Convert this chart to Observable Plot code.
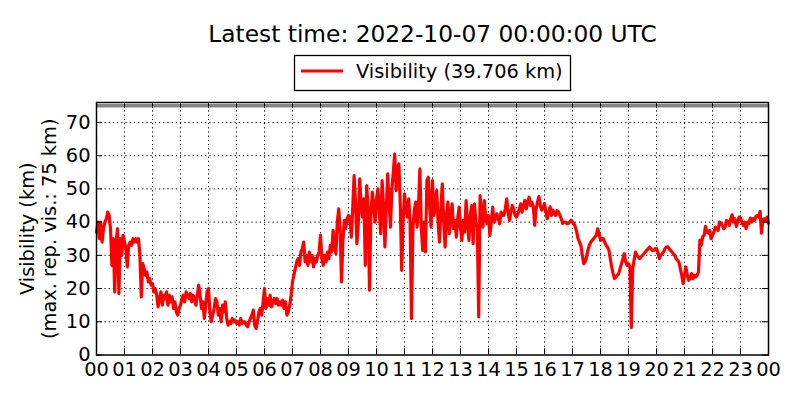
<!DOCTYPE html>
<html>
<head>
<meta charset="utf-8">
<script src="https://cdn.jsdelivr.net/npm/d3@7"></script>
<script src="https://cdn.jsdelivr.net/npm/@observablehq/plot@0.6"></script>
<style>
  html, body { margin: 0; padding: 0; background: white; }
  body { width: 800px; height: 400px; overflow: hidden; font-family: "DejaVu Sans", sans-serif; }
  #header { display: block; }
  #chart svg { display: block; }
</style>
</head>
<body>
<div id="header"></div>
<div id="chart"></div>
<script>
// ---- data (hours since 2022-10-06 00:00 UTC, visibility in km) ----
const titleText = "Latest time: 2022-10-07 00:00:00 UTC";
const seriesName = "Visibility";
const latestValue = 39.706;
const maxReportable = 75;
const yLabelLines = ["Visibility (km)", "(max. rep. vis.: 75 km)"];
const hourTicks = [0,1,2,3,4,5,6,7,8,9,10,11,12,13,14,15,16,17,18,19,20,21,22,23,24];
const kmTicks = [0,10,20,30,40,50,60,70];

const hours = [
  0,0.05,0.1,0.15,0.2,0.25,0.3,0.35,0.4,0.45,0.5,0.55,0.6,0.65,0.7,0.75,0.8,0.85,0.9,0.95,
  1,1.05,1.1,1.15,1.2,1.25,1.3,1.35,1.4,1.45,1.5,1.55,1.6,1.65,1.7,1.75,1.8,1.85,1.9,1.95,
  2,2.05,2.1,2.15,2.2,2.25,2.3,2.35,2.4,2.45,2.5,2.55,2.6,2.65,2.7,2.75,2.8,2.85,2.9,2.95,
  3,3.05,3.1,3.15,3.2,3.25,3.3,3.35,3.4,3.45,3.5,3.55,3.6,3.65,3.7,3.75,3.8,3.85,3.9,3.95,
  4,4.05,4.1,4.15,4.2,4.25,4.3,4.35,4.4,4.45,4.5,4.55,4.6,4.65,4.7,4.75,4.8,4.85,4.9,4.95,
  5,5.05,5.1,5.15,5.2,5.25,5.3,5.35,5.4,5.45,5.5,5.55,5.6,5.65,5.7,5.75,5.8,5.85,5.9,5.95,
  6,6.05,6.1,6.15,6.2,6.25,6.3,6.35,6.4,6.45,6.5,6.55,6.6,6.65,6.7,6.75,6.8,6.85,6.9,6.95,
  7,7.05,7.1,7.15,7.2,7.25,7.3,7.35,7.4,7.45,7.5,7.55,7.6,7.65,7.7,7.75,7.8,7.85,7.9,7.95,
  8,8.05,8.1,8.15,8.2,8.25,8.3,8.35,8.4,8.45,8.5,8.55,8.6,8.65,8.7,8.75,8.8,8.85,8.9,8.95,
  9,9.05,9.1,9.15,9.2,9.25,9.3,9.35,9.4,9.45,9.5,9.55,9.6,9.65,9.7,9.75,9.8,9.85,9.9,9.95,
  10,10.05,10.1,10.15,10.2,10.25,10.3,10.35,10.4,10.45,10.5,10.55,10.6,10.65,10.7,10.75,10.8,10.85,10.9,10.95,
  11,11.05,11.1,11.15,11.2,11.25,11.3,11.35,11.4,11.45,11.5,11.55,11.6,11.65,11.7,11.75,11.8,11.85,11.9,11.95,
  12,12.05,12.1,12.15,12.2,12.25,12.3,12.35,12.4,12.45,12.5,12.55,12.6,12.65,12.7,12.75,12.8,12.85,12.9,12.95,
  13,13.05,13.1,13.15,13.2,13.25,13.3,13.35,13.4,13.45,13.5,13.55,13.6,13.65,13.7,13.75,13.8,13.85,13.9,13.95,
  14,14.05,14.1,14.15,14.2,14.25,14.3,14.35,14.4,14.45,14.5,14.55,14.6,14.65,14.7,14.75,14.8,14.85,14.9,14.95,
  15,15.05,15.1,15.15,15.2,15.25,15.3,15.35,15.4,15.45,15.5,15.55,15.6,15.65,15.7,15.75,15.8,15.85,15.9,15.95,
  16,16.05,16.1,16.15,16.2,16.25,16.3,16.35,16.4,16.45,16.5,16.55,16.6,16.65,16.7,16.75,16.8,16.85,16.9,16.95,
  17,17.05,17.1,17.15,17.2,17.25,17.3,17.35,17.4,17.45,17.5,17.55,17.6,17.65,17.7,17.75,17.8,17.85,17.9,17.95,
  18,18.05,18.1,18.15,18.2,18.25,18.3,18.35,18.4,18.45,18.5,18.55,18.6,18.65,18.7,18.75,18.8,18.85,18.9,18.95,
  19,19.05,19.1,19.15,19.2,19.25,19.3,19.35,19.4,19.45,19.5,19.55,19.6,19.65,19.7,19.75,19.8,19.85,19.9,19.95,
  20,20.05,20.1,20.15,20.2,20.25,20.3,20.35,20.4,20.45,20.5,20.55,20.6,20.65,20.7,20.75,20.8,20.85,20.9,20.95,
  21,21.05,21.1,21.15,21.2,21.25,21.3,21.35,21.4,21.45,21.5,21.55,21.6,21.65,21.7,21.75,21.8,21.85,21.9,21.95,
  22,22.05,22.1,22.15,22.2,22.25,22.3,22.35,22.4,22.45,22.5,22.55,22.6,22.65,22.7,22.75,22.8,22.85,22.9,22.95,
  23,23.05,23.1,23.15,23.2,23.25,23.3,23.35,23.4,23.45,23.5,23.55,23.6,23.65,23.7,23.75,23.8,23.85,23.9,23.95,
  24
];

const visibility = [
  37,40,35,40,34,38,40,41,43,42,38,27,35,19,34,38,18.5,35,30,36,
  34,32,26.5,33,34,33,35,34,35,34,35,30,17.5,27.5,26,24,25,22,23,21,
  21.5,19,20,18,14.5,17,19,15,18,17,19,15,18,16,17.5,14,16,13,12,14,
  15,17,18,16,19,18,17,18.5,16,18,17,15,18,21,18,14,16,11,15,19,
  20,13,10,12,14,17,16,12,14,10,15,13,16,11,9,10,9.5,11,10,10.5,
  9.5,10,9,11,9.5,10,10,9,8.5,10,11,12,13.5,9,8,10,13,14,12,16,
  20,14,17,15,18,14.5,16,17,15.5,17,15,16,15,16.5,14,16,12,13,15,18,
  22,24,26,28,29,27,31,32,34,28,30,27,31,28,30,26.5,29,28,30,31,
  36,29,27,30,28,31,29,33,31,37.5,33,30.5,40,44,38,22,34,40.5,38,41,
  42,41.5,35.5,44,54,46,33.5,39.5,53,45,41.5,47,27,51,44,19.5,42,49,45,40,
  47,50,43,36.5,52.5,45,32.5,44,54.5,46,38.5,50,55,60.5,49.5,56,57.5,45,25.5,40,
  48.5,44,41.5,47,40,11,38,43.5,46,38.5,45,56,38.5,31.5,40,31,52.5,53.5,44.5,38.5,
  52.5,42,45.5,49.5,40,34,44,51.5,40,32.5,42,46,36.5,42,45.5,38,40.5,35.5,41,44.5,
  38,34.5,40.5,37,46.5,40,34.5,42,45,33.5,45.5,40,38.5,11.5,48,42,38.5,46.5,41,39.5,
  42,36,40,44.5,40,41,42.5,41,39.5,43,42,42,44,47,43,40.5,43,45,44,42,
  41.5,42.5,44,45.5,43,45,46.5,44,46,47.5,45,46,44.6,39,44,46,47.7,45,43.6,44,
  45.6,43,41,43,44.6,42,43.6,42.5,42,43.5,43,42,41,39.6,40,40,39.5,39.6,40,40.6,
  40,39.5,38.6,37,35,34,33,30,27.5,28,29.5,31.5,33,34,34.5,35,35.5,36,38,36.5,
  34.5,35,35,34,33,32.5,31.5,29,26.5,24.5,23,23.5,24,24.5,26,27.5,29,30.5,28,27,
  27.5,26.5,8.3,26,28.5,31,30,29.5,29,29.5,30,30.5,31,31.5,32,32.5,32,31.5,31.5,32,
  32,31,29,30,30.5,31,32,32.5,32.6,32,31.5,31,30.5,30,29,28.5,28,26,24,21.5,
  24,26.5,24,22.5,23,24.5,23,24,23.5,24,25,34.6,33,35.6,36,38.7,37,36.7,37.5,35,
  36,37,38.5,38,37.5,40,39.7,39,38,38.5,40.5,40.2,39,41,42.2,40,41,38.7,40,41.5,
  41.2,40,39,40,38,40,39.5,41.2,40,41,40.5,41.7,42,41.5,43.2,36.7,40.7,41,40.2,41.5,
  latestValue
];

const rows = hours.map((h, i) => ({h, v: visibility[i]}));

// ---- header: title + legend (drawn above the plot SVG) ----
const header = d3.select("#header").append("svg")
  .attr("width", 800).attr("height", 95)
  .style("display", "block")
  .style("font-family", "DejaVu Sans, sans-serif");
header.append("text")
  .attr("x", 432.5).attr("y", 42)
  .attr("text-anchor", "middle")
  .attr("font-size", 23.3)
  .attr("fill", "black")
  .text(titleText);
header.append("rect")
  .attr("x", 294.5).attr("y", 55.5).attr("width", 276).attr("height", 35)
  .attr("fill", "white").attr("stroke", "black").attr("stroke-width", 1.3);
header.append("line")
  .attr("x1", 301).attr("x2", 343).attr("y1", 71).attr("y2", 71)
  .attr("stroke", "red").attr("stroke-width", 3);
header.append("text")
  .attr("x", 356).attr("y", 78)
  .attr("font-size", 19.4)
  .attr("fill", "black")
  .text(`${seriesName} (${latestValue.toFixed(3)} km)`);

// ---- plot ----
const W = 800, H = 305, mT = 7, mB = 45.5, mL = 96, mR = 32;
const frameH = H - mT - mB, frameW = W - mL - mR, tickLen = 6;
const dotted = {stroke: "black", strokeOpacity: 1, strokeWidth: 1, strokeDasharray: "1.2,3"};

const chart = Plot.plot({
  width: W, height: H,
  marginTop: mT, marginBottom: mB, marginLeft: mL, marginRight: mR,
  style: {fontFamily: "DejaVu Sans, sans-serif", fontSize: "19.4px", color: "black", background: "white", overflow: "visible"},
  x: {domain: [0, 24]},
  y: {domain: [0, 76]},
  marks: [
    Plot.gridX(hourTicks.slice(1, -1), dotted),
    Plot.gridY(kmTicks.slice(1), dotted),
    Plot.ruleY([maxReportable], {stroke: "#858585", strokeWidth: 3.5}),
    Plot.line(rows, {x: "h", y: "v", stroke: "#ff0000", strokeWidth: 3.2, strokeLinejoin: "round"}),
    Plot.tickX(hourTicks, {x: d => d, stroke: "black", strokeWidth: 1, insetTop: frameH - tickLen}),
    Plot.tickX(hourTicks, {x: d => d, stroke: "black", strokeWidth: 1, insetBottom: frameH - tickLen}),
    Plot.tickY(kmTicks, {y: d => d, stroke: "black", strokeWidth: 1, insetRight: frameW - tickLen}),
    Plot.tickY(kmTicks, {y: d => d, stroke: "black", strokeWidth: 1, insetLeft: frameW - tickLen}),
    Plot.frame({stroke: "black", strokeWidth: 1.5}),
    Plot.axisX(hourTicks, {anchor: "bottom", tickSize: 0, tickPadding: 7, label: null,
      tickFormat: d => String(d % 24).padStart(2, "0")}),
    Plot.axisY(kmTicks, {anchor: "left", tickSize: 0, tickPadding: 6, label: null}),
    Plot.text([yLabelLines.join("\n")], {
      text: d => d, frameAnchor: "left", dx: -59, rotate: -90,
      textAnchor: "middle", lineAnchor: "middle", lineHeight: 1.134,
      fontSize: 19.4, fill: "black"
    })
  ]
});
document.getElementById("chart").append(chart);
</script>
</body>
</html>
